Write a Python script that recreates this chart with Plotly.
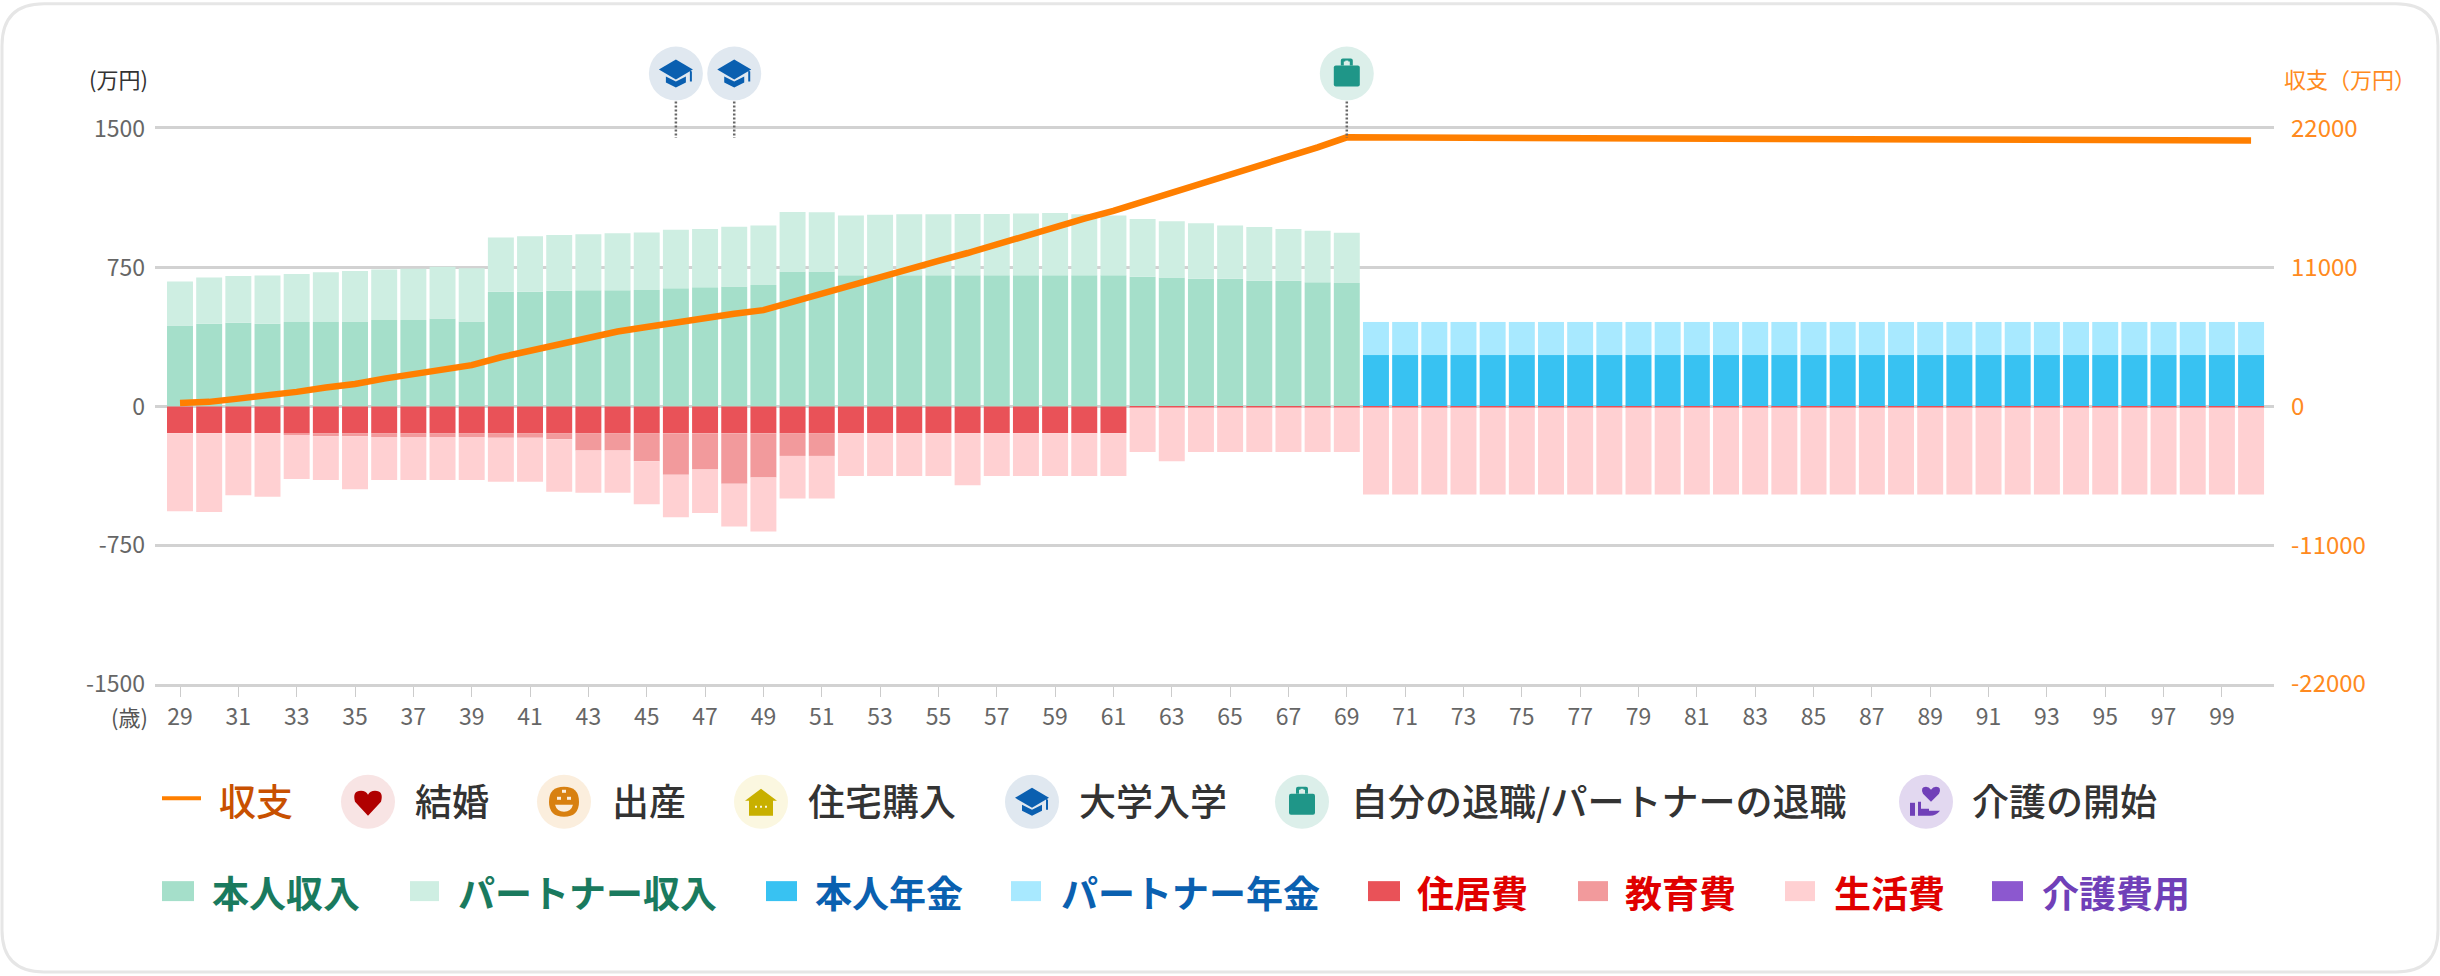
import plotly.graph_objects as go

ages = list(range(29, 101))
tick_ages = list(range(29, 100, 2))
left_ticks = [-1500, -750, 0, 750, 1500]
right_ticks = [-22000, -11000, 0, 11000, 22000]

self_income = [438, 447, 453, 447, 457, 457, 459, 467, 468, 476, 459,
               620, 620, 626, 628, 628, 630, 639, 645, 649, 657,
               730, 730, 710, 710, 710, 710, 710, 710, 710, 710, 710, 710,
               701, 697, 691, 691, 680, 680, 672, 668,
               0, 0, 0, 0, 0, 0, 0, 0, 0, 0, 0, 0, 0, 0, 0, 0,
               0, 0, 0, 0, 0, 0, 0, 0, 0, 0, 0, 0, 0, 0, 0]
partner_income = [238, 250, 252, 261, 259, 269, 273, 274, 277, 280, 288,
                  294, 300, 301, 303, 309, 311, 317, 315, 323, 322,
                  322, 320, 323, 327, 329, 329, 331, 331, 333, 336, 329, 323,
                  313, 305, 300, 288, 290, 280, 278, 271,
                  0, 0, 0, 0, 0, 0, 0, 0, 0, 0, 0, 0, 0, 0, 0, 0,
                  0, 0, 0, 0, 0, 0, 0, 0, 0, 0, 0, 0, 0, 0, 0]
self_pension = [0, 0, 0, 0, 0, 0, 0, 0, 0, 0, 0, 0, 0, 0, 0, 0, 0, 0, 0, 0, 0,
                0, 0, 0, 0, 0, 0, 0, 0, 0, 0, 0, 0, 0, 0, 0, 0, 0, 0, 0, 0,
                278, 278, 278, 278, 278, 278, 278, 278, 278, 278, 278, 278, 278, 278, 278, 278,
                278, 278, 278, 278, 278, 278, 278, 278, 278, 278, 278, 278, 278, 278, 278]
partner_pension = [0, 0, 0, 0, 0, 0, 0, 0, 0, 0, 0, 0, 0, 0, 0, 0, 0, 0, 0, 0, 0,
                   0, 0, 0, 0, 0, 0, 0, 0, 0, 0, 0, 0, 0, 0, 0, 0, 0, 0, 0, 0,
                   179, 179, 179, 179, 179, 179, 179, 179, 179, 179, 179, 179, 179, 179, 179, 179,
                   179, 179, 179, 179, 179, 179, 179, 179, 179, 179, 179, 179, 179, 179, 179]
housing = [-144, -144, -144, -144, -144, -144, -144, -144, -144, -144, -144,
           -144, -144, -144, -144, -144, -144, -144, -144, -144, -144,
           -144, -144, -144, -144, -144, -144, -144, -144, -144, -144, -144, -144,
           -5, -5, -5, -5, -5, -5, -5, -5,
           -5, -5, -5, -5, -5, -5, -5, -5, -5, -5, -5, -5, -5, -5, -5, -5,
           -5, -5, -5, -5, -5, -5, -5, -5, -5, -5, -5, -5, -5, -5, -5]
education = [0, 0, 0, 0, -10, -17, -17, -21, -21, -21, -21,
             -25, -25, -33, -94, -94, -152, -225, -196, -273, -240,
             -123, -123, 0, 0, 0, 0, 0, 0, 0, 0, 0, 0,
             0, 0, 0, 0, 0, 0, 0, 0,
             0, 0, 0, 0, 0, 0, 0, 0, 0, 0, 0, 0, 0, 0, 0, 0,
             0, 0, 0, 0, 0, 0, 0, 0, 0, 0, 0, 0, 0, 0, 0]
living = [-422, -426, -336, -344, -238, -236, -286, -232, -232, -232, -232,
          -238, -238, -284, -228, -228, -232, -230, -236, -232, -292,
          -230, -230, -232, -232, -232, -232, -282, -232, -232, -232, -232, -232,
          -241, -291, -241, -241, -241, -241, -241, -241,
          -471, -471, -471, -471, -471, -471, -471, -471, -471, -471, -471, -471, -471, -471, -471, -471,
          -471, -471, -471, -471, -471, -471, -471, -471, -471, -471, -471, -471, -471, -471, -471]
care = [0, 0, 0, 0, 0, 0, 0, 0, 0, 0, 0, 0, 0, 0, 0, 0, 0, 0, 0, 0, 0,
        0, 0, 0, 0, 0, 0, 0, 0, 0, 0, 0, 0, 0, 0, 0, 0, 0, 0, 0, 0,
        0, 0, 0, 0, 0, 0, 0, 0, 0, 0, 0, 0, 0, 0, 0, 0,
        0, 0, 0, 0, 0, 0, 0, 0, 0, 0, 0, 0, 0, 0, 0]
balance = [283, 368, 623, 849, 1160, 1500, 1783, 2207, 2575, 2972, 3283,
           3905, 4415, 4981, 5462, 5943, 6300, 6679, 7075, 7358, 7641,
           8292, 8943, 9707, 10273, 10980, 11546, 12169, 12877, 13527, 14178, 14886, 15508,
           16216, 16923, 17631, 18338, 19074, 19810, 20546, 21338,
           21330, 21320, 21315, 21305, 21300, 21285, 21280, 21270, 21265, 21255, 21245, 21240, 21230, 21225, 21215, 21210,
           21200, 21190, 21185, 21175, 21165, 21160, 21150, 21140, 21135, 21125, 21115, 21110, 21100, 21090, 21083]

university_ages = [46, 48]
retire_ages = [69]

series = [
    ("本人収入", self_income, "#a5dfca"),
    ("パートナー収入", partner_income, "#ceeee2"),
    ("本人年金", self_pension, "#38c2f2"),
    ("パートナー年金", partner_pension, "#a8e9ff"),
    ("住居費", housing, "#e95258"),
    ("教育費", education, "#f29a9c"),
    ("生活費", living, "#ffd0d2"),
    ("介護費用", care, "#8c58cf"),
]

W, H = 2440, 976
PL, PR, PT, PB = 155, 2274, 128.5, 684.5
FONT = "Noto Sans CJK JP"
MEDIUM = "Noto Sans CJK JP Medium, Noto Sans CJK JP"
GRID = "#d2d2d2"


def X(p):
    return (p - PL) / (PR - PL)


def Y(p):
    return (PB - p) / (PB - PT)


STEP = 29.17
X_RANGE = [29 - (180 - PL) / STEP, 29 + (PR - 180) / STEP]

fig = go.Figure()
for name, vals, color in series:
    fig.add_trace(go.Bar(x=ages, y=vals, name=name, marker=dict(color=color, line_width=0),
                         width=0.89, showlegend=False))
fig.add_trace(go.Scatter(x=ages, y=balance, name="収支", yaxis="y2", mode="lines",
                         line=dict(color="#ff7f00", width=6.5), showlegend=False))

shapes = []
annotations = []

# card
r = 42
x0, x1, y0, y1 = 2, 2438, 3, 973
pts = (f"M {X(x0+r)} {Y(y0)} L {X(x1-r)} {Y(y0)} Q {X(x1)} {Y(y0)} {X(x1)} {Y(y0+r)} "
       f"L {X(x1)} {Y(y1-r)} Q {X(x1)} {Y(y1)} {X(x1-r)} {Y(y1)} L {X(x0+r)} {Y(y1)} "
       f"Q {X(x0)} {Y(y1)} {X(x0)} {Y(y1-r)} L {X(x0)} {Y(y0+r)} Q {X(x0)} {Y(y0)} {X(x0+r)} {Y(y0)} Z")
shapes.append(dict(type="path", path=pts, xref="paper", yref="paper", layer="below",
                   line=dict(color="#e6e6e6", width=3), fillcolor="white"))


def pix(xa, ya, path, color, xref="paper"):
    return dict(type="path", path=path, xref=xref, yref="paper", xsizemode="pixel", ysizemode="pixel",
                xanchor=xa, yanchor=ya, fillcolor=color, line=dict(width=0), layer="above")


def circle(xa, ya, color, xref="paper", rad=27):
    return dict(type="circle", xref=xref, yref="paper", xsizemode="pixel", ysizemode="pixel",
                xanchor=xa, yanchor=ya, x0=-rad, x1=rad, y0=-rad, y1=rad,
                fillcolor=color, line=dict(width=0), layer="above")


CAP = ["M -17 4 L 0 14 L 17 4 L 0 -6 Z",
       "M -10 -3 L 0 -8 L 10 -3 L 10 -9 L 0 -14 L -10 -9 Z",
       "M 14 3 L 16 2 L 16 -8 L 14 -8 Z"]
BAG = ["M -13 6 Q -13 8 -11 8 L 11 8 Q 13 8 13 6 L 13 -11 Q 13 -13 11 -13 L -11 -13 Q -13 -13 -13 -11 Z",
       "M -6 8 L -6 13 Q -6 15 -4 15 L 4 15 Q 6 15 6 13 L 6 8 L 3 8 L 3 12 L -3 12 L -3 8 Z"]
HEART = ["M 0 -14 L -13 0 Q -16 11 -7 11 Q -2 11 0 7 Q 2 11 7 11 Q 16 11 13 0 Z"]
SMILE = ["M -15 0 Q -15 15 0 15 Q 15 15 15 0 Q 15 -15 0 -15 Q -15 -15 -15 0 Z"]
HOUSE = ["M 0 13 L 16 1 L 12 1 L 12 -14 L -12 -14 L -12 1 L -16 1 Z"]
CARE = ["M 5 0 L -3 8 Q -6 15 0 15 Q 3 15 5 12 Q 7 15 10 15 Q 16 15 13 8 Z",
        "M -16 -14 L -16 -1 L -11 -1 L -11 -14 Z",
        "M -8 -14 L -8 0 L -5 0 L -5 -7 L 3 -7 L 3 -9 L 14 -9 Q 10 -14 4 -14 Z"]


def icon(xa, ya, bg, paths, color, xref="paper", extras=()):
    shapes.append(circle(xa, ya, bg, xref))
    for p in paths:
        shapes.append(pix(xa, ya, p, color, xref))
    for p, c in extras:
        shapes.append(pix(xa, ya, p, c, xref))


BAGDOT = [("M -1.5 10 L 1.5 10 L 1.5 13 L -1.5 13 Z", "#dcefea")]
SMILE_X = [("M -7 2 L -3 2 L -3 5 L -7 5 Z", "#fbeedd"), ("M 3 2 L 7 2 L 7 5 L 3 5 Z", "#fbeedd"),
           ("M -9 -3 L 9 -3 Q 7 -10 0 -10 Q -7 -10 -9 -3 Z", "#fbeedd"),
           ("M -2 12 L 2 12 L 2 9 L -2 9 Z", "#fbeedd")]
HOUSE_X = [("M -6 -4 L -4 -4 L -4 -6 L -6 -6 Z", "#fbf7e0"), ("M -1 -4 L 1 -4 L 1 -6 L -1 -6 Z", "#fbf7e0"),
           ("M 4 -4 L 6 -4 L 6 -6 L 4 -6 Z", "#fbf7e0")]

# event markers on the age axis
for a in university_ages:
    icon(a, Y(73), "#e0e8f0", CAP, "#0a5fb0", xref="x")
    shapes.append(dict(type="line", xref="x", yref="paper", x0=a, x1=a, y0=Y(101), y1=Y(137.5),
                       line=dict(color="#666666", width=2.5, dash="2px,2px"), layer="above"))
for a in retire_ages:
    icon(a, Y(73), "#dcefea", BAG, "#1f9688", xref="x", extras=BAGDOT)
    shapes.append(dict(type="line", xref="x", yref="paper", x0=a, x1=a, y0=Y(101), y1=Y(137.5),
                       line=dict(color="#666666", width=2.5, dash="2px,2px"), layer="above"))


def text(px, py, s, size, color, anchor="left", weight="normal", family=FONT):
    annotations.append(dict(x=X(px), y=Y(py), xref="paper", yref="paper", text=s, showarrow=False,
                            xanchor=anchor, yanchor="middle", borderpad=0,
                            font=dict(family=family, size=size, color=color, weight=weight)))


text(149, 77, "(万円)", 22, "#333333", "right")
text(2283, 77, "収支（万円）", 22, "#ff8a20")
text(149, 717, "(歳)", 22, "#555555", "right")

# legend row 1
shapes.append(dict(type="line", xref="paper", yref="paper", x0=X(162), x1=X(201), y0=Y(799), y1=Y(799),
                   line=dict(color="#ff7f00", width=4)))
R1 = 37
text(218, 801, "収支", R1, "#c85000", family=MEDIUM)
LEG_Y = 802.5
icon(X(368), Y(LEG_Y), "#f8e4e4", HEART, "#b00000")
text(414, 801, "結婚", R1, "#333333", family=MEDIUM)
icon(X(564), Y(LEG_Y), "#fbeedd", SMILE, "#d88010", extras=SMILE_X)
text(611, 801, "出産", R1, "#333333", family=MEDIUM)
icon(X(761), Y(LEG_Y), "#fbf7e0", HOUSE, "#c8b000", extras=HOUSE_X)
text(807, 801, "住宅購入", R1, "#333333", family=MEDIUM)
icon(X(1032), Y(LEG_Y), "#e0e8f0", CAP, "#0a5fb0")
text(1078, 801, "大学入学", R1, "#333333", family=MEDIUM)
icon(X(1302), Y(LEG_Y), "#dcefea", BAG, "#1f9688", extras=BAGDOT)
text(1350, 801, "自分の退職/パートナーの退職", R1, "#333333", family=MEDIUM)
icon(X(1926), Y(LEG_Y), "#e2d8f0", CARE, "#7040b8")
text(1971, 801, "介護の開始", R1, "#333333", family=MEDIUM)

# legend row 2
row2 = [(162, 194, 211, "#1a7a5e"), (410, 439, 457, "#1a7a5e"), (766, 797, 814, "#0a60b0"),
        (1011, 1041, 1060, "#0a60b0"), (1368, 1400, 1416, "#e00000"), (1578, 1608, 1624, "#e00000"),
        (1785, 1815, 1833, "#e00000"), (1992, 2023, 2041, "#7040b8")]
for (name, _, color), (sx0, sx1, tx, tc) in zip(series, row2):
    shapes.append(dict(type="rect", xref="paper", yref="paper", x0=X(sx0), x1=X(sx1), y0=Y(882), y1=Y(902),
                       fillcolor=color, line=dict(width=0)))
    text(tx, 893, name, 37, tc, weight="bold")

fig.update_layout(
    width=W, height=H, autosize=False,
    margin=dict(l=PL, r=W - PR, t=PT, b=H - PB, pad=0),
    paper_bgcolor="white", plot_bgcolor="rgba(0,0,0,0)",
    barmode="relative", showlegend=False,
    font=dict(family=FONT),
    shapes=shapes, annotations=annotations,
    xaxis=dict(range=X_RANGE, tickmode="array", tickvals=tick_ages, ticktext=[str(a) for a in tick_ages],
               showgrid=False, zeroline=False, showline=True, mirror=True, linecolor=GRID, linewidth=3,
               ticks="outside", ticklen=10, tickwidth=1, tickcolor="#cccccc",
               tickfont=dict(size=23, color="#666666", family=FONT)),
    yaxis=dict(range=[-1500, 1500], tickmode="array", tickvals=left_ticks, ticktext=[str(t) for t in left_ticks],
               showgrid=True, gridcolor=GRID, gridwidth=3, zeroline=True, zerolinecolor=GRID, zerolinewidth=3,
               showline=False, ticks="", ticklabelstandoff=9,
               tickfont=dict(size=23, color="#666666", family=FONT)),
    yaxis2=dict(range=[-22000, 22000], overlaying="y", side="right", tickmode="array", tickvals=right_ticks,
                ticktext=[str(t) for t in right_ticks], showgrid=False, zeroline=False, showline=False,
                ticks="", ticklabelstandoff=16,
                tickfont=dict(size=24, color="#ff8a20", family=FONT)),
)

fig.write_html("out.html", config={"displayModeBar": False},
               post_script="document.body.style.margin='0';document.body.style.overflow='hidden';")
